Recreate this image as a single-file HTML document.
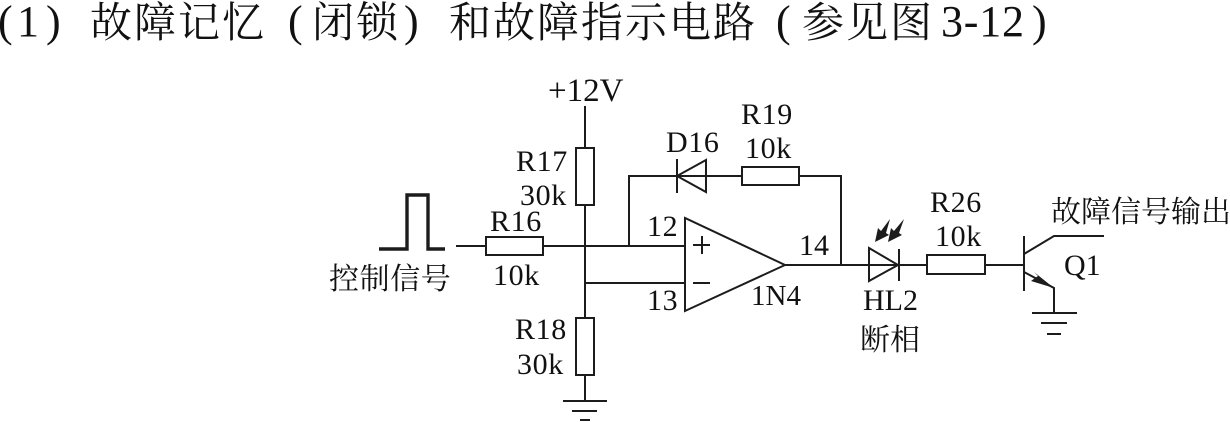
<!DOCTYPE html>
<html><head><meta charset="utf-8"><style>
html,body{margin:0;padding:0;background:#fff}
svg{display:block}
text{font-family:"Liberation Serif","Noto Serif CJK SC",serif;fill:#111}
</style></head><body>
<svg width="1230" height="422" viewBox="0 0 1230 422" xmlns="http://www.w3.org/2000/svg">
<rect width="1230" height="422" fill="#fff"/>
<g font-size="44">
<text x="-2" y="36">(</text><text x="17" y="36">1</text><text x="46" y="36">)</text>
<text x="288" y="36">(</text><text x="404" y="36">)</text>
<text x="776" y="36">(</text><text x="941" y="36" letter-spacing="0.8">3-12</text><text x="1032" y="36">)</text>
</g>
<g font-size="42" letter-spacing="2">
<text x="90" y="37">故障记忆</text>
<text x="312" y="37">闭锁</text>
<text x="449" y="37">和故障指示电路</text>
<text x="802" y="37">参见图</text>
</g>
<g fill="none" stroke="#1c1c1c" stroke-width="2">
<path d="M585 106V148M585 205V318M585 375V401"/>
<rect x="576" y="148" width="18" height="57"/>
<rect x="576" y="318" width="18" height="57"/>
<path d="M563 401H607M572 411H597M580 420H590"/>
<path d="M456 246H486M543 246H686M585 283H685"/>
<rect x="486" y="237" width="57" height="18"/>
<path d="M379 249H407V195H428V249H445" stroke-width="3.4"/>
<path d="M629 246V176H741M799 176H841V265"/>
<rect x="742" y="167" width="57" height="18"/>
<path d="M677 159V193M706 160L677 176L706 192Z"/>
<path d="M685 218V311L785 265Z"/>
<path d="M693 245H710M702 236V254M693 283H710"/>
<path d="M785 265H927M985 265H1024"/>
<path d="M869 248V281L898 265Z"/>
<path d="M899 249V281"/>
<rect x="927" y="255" width="58" height="19"/>
<path d="M1024 236V291M1024 254L1054 236H1104M1024 272L1054 288V313"/>
<path d="M1032 313H1077M1041 323H1067M1047 334H1061"/>
</g>
<g fill="#1c1c1c">
<path d="M1054 288L1031 281L1038 276L1034 272Z"/>
<path d="M875 242L878 228L881 231L890 219L886 233L889 235Z"/>
<path d="M888 242L891 228L894 231L904 219L899 233L902 235Z"/>
</g>
<g font-size="30">
<text x="548" y="101" font-size="33">+12V</text>
<text x="516" y="171" letter-spacing="0.6">R17</text>
<text x="520" y="205" letter-spacing="0.6">30k</text>
<text x="490" y="231" letter-spacing="0.6">R16</text>
<text x="493" y="285" letter-spacing="0.6">10k</text>
<text x="515" y="339" letter-spacing="0.6">R18</text>
<text x="517" y="374" letter-spacing="0.6">30k</text>
<text x="666" y="152" letter-spacing="0.6">D16</text>
<text x="741" y="124" letter-spacing="0.6">R19</text>
<text x="745" y="158" letter-spacing="0.6">10k</text>
<text x="647" y="236" letter-spacing="0.6">12</text>
<text x="647" y="310" letter-spacing="0.6">13</text>
<text x="799" y="255">14</text>
<text x="751" y="305" font-size="29">1N4</text>
<text x="863" y="310">HL2</text>
<text x="930" y="212" letter-spacing="0.6">R26</text>
<text x="935" y="246" letter-spacing="0.6">10k</text>
<text x="1064" y="275">Q1</text>
<text x="329" y="289" letter-spacing="0.6">控制信号</text>
<text x="860" y="350">断相</text>
<text x="1051" y="222">故障信号输出</text>
</g>
</svg>
</body></html>
